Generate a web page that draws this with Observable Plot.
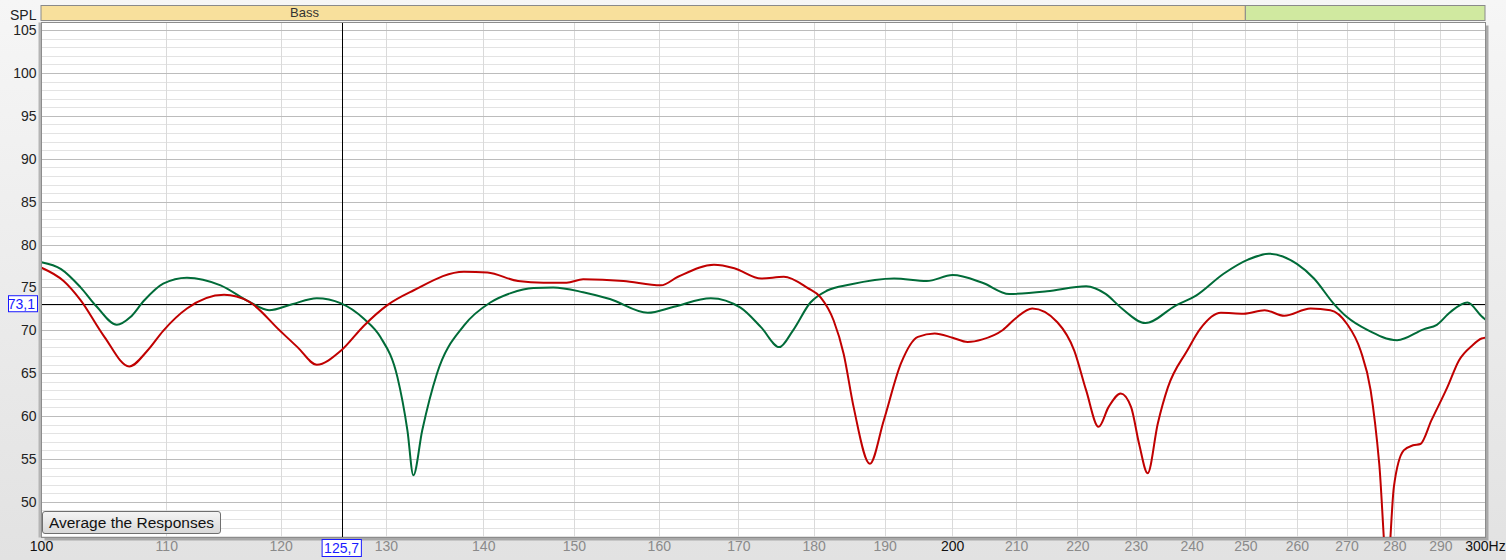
<!DOCTYPE html>
<html>
<head>
<meta charset="utf-8">
<script src="https://cdn.jsdelivr.net/npm/d3@7"></script>
<script src="https://cdn.jsdelivr.net/npm/@observablehq/plot@0.6"></script>
<style>
  html, body { margin: 0; padding: 0; }
  body { width: 1506px; height: 560px; background: linear-gradient(#f6f6f6, #e2e2e2); position: relative; overflow: hidden; font-family: "Liberation Sans", Arial, sans-serif; }
  #chart { position: absolute; left: 0; top: 0; }
  #avg { position: absolute; left: 42px; top: 511px; width: 179px; height: 23px; font: 15.5px "Liberation Sans", Arial, sans-serif; color: #111; border: 1px solid #6f6f6f; border-radius: 3px; background: linear-gradient(#f4f4f4, #d9d9d9); padding: 0; }
</style>
</head>
<body>
<div id="chart"></div>
<button id="avg">Average the Responses</button>
<script>
// ---- data ----
const freqGreen = [100, 101.5, 103.0, 104.3, 105.9, 107.0, 108.1, 109.7, 111.7, 114.6, 117.1, 118.9, 121.0, 123.3, 125.6, 127.8, 129.4, 131.1, 132.1, 132.7, 133.6, 135.1, 137.9, 140.7, 142.9, 145.4, 147.6, 151.0, 154.1, 158.6, 161.8, 166.4, 170.2, 172.9, 175.3, 177.1, 179.5, 181.8, 185.0, 191.3, 196.1, 200, 204.6, 208.8, 214.9, 221.4, 224.7, 227.5, 231.6, 237.0, 240.7, 245.8, 250.4, 254.4, 259.9, 263.3, 267.3, 270.0, 274.2, 280.5, 286.3, 289.1, 292.1, 295.9, 299.1, 300];
const splGreen  = [78.0, 77.2, 75.1, 72.8, 70.7, 71.6, 73.5, 75.5, 76.2, 75.3, 73.4, 72.4, 73.1, 73.8, 73.2, 71.4, 69.3, 64.6, 58.4, 53.15, 58.4, 65.0, 70.6, 73.3, 74.4, 75.0, 75.05, 74.5, 73.7, 72.1, 72.8, 73.8, 72.7, 70.4, 68.1, 70.0, 73.3, 74.7, 75.4, 76.1, 75.8, 76.5, 75.6, 74.3, 74.6, 75.2, 74.3, 72.6, 70.9, 72.95, 74.1, 76.65, 78.3, 79.0, 77.8, 76.1, 73.15, 71.6, 70.1, 68.9, 70.2, 70.7, 72.2, 73.3, 71.7, 71.3];

const freqRed = [100, 101.7, 103.0, 104.9, 106.9, 108.4, 109.7, 111.7, 114.9, 117.1, 119.9, 121.5, 123.3, 125.6, 127.8, 130.1, 132.7, 137.9, 140.4, 143.7, 146.5, 149.1, 151.0, 155.7, 160.2, 162.3, 166.8, 169.4, 172.9, 175.9, 179.1, 180.9, 182.7, 184.1, 185.5, 187.8, 189.8, 192.3, 194.8, 197.3, 200, 202.3, 204.6, 207.8, 209.9, 212.5, 216.6, 219.4, 221.4, 223.5, 225.2, 227.3, 229.1, 230.5, 232.0, 233.8, 235.6, 239.1, 241.5, 245.3, 249.6, 253.6, 257.4, 262.6, 266.6, 270.0, 272.8, 274.9, 276.7, 278.4, 279.8, 281.9, 283.9, 285.5, 287.9, 291.4, 294.0, 297.0, 299.1, 300];
const splRed  = [77.35, 75.8, 73.6, 69.3, 65.85, 67.7, 70.0, 72.6, 74.2, 73.4, 70.0, 68.1, 66.05, 67.7, 70.6, 73.0, 74.7, 76.9, 76.8, 75.8, 75.6, 75.6, 76.0, 75.8, 75.3, 76.3, 77.7, 77.3, 76.1, 76.3, 75.0, 73.9, 71.2, 67.3, 61.1, 54.5, 59.55, 66.2, 69.3, 69.7, 69.2, 68.7, 69.0, 70.1, 71.5, 72.6, 71.0, 67.7, 63.05, 58.8, 61.1, 62.7, 61.1, 56.8, 53.4, 59.2, 63.4, 67.7, 70.25, 72.1, 72.0, 72.4, 71.75, 72.6, 72.4, 70.8, 67.7, 63.05, 54.5, 42.0, 51.8, 56.05, 56.65, 56.8, 59.55, 63.4, 66.55, 68.3, 69.1, 69.2];

const xTicks = [100, 110, 120, 130, 140, 150, 160, 170, 180, 190, 200, 210, 220, 230, 240, 250, 260, 270, 280, 290, 300];
const xTickLabels = ["100", "110", "120", "130", "140", "150", "160", "170", "180", "190", "200", "210", "220", "230", "240", "250", "260", "270", "280", "290", "300Hz"];
const xTickStrong = [100, 200, 300];
const yTicks = [50, 55, 60, 65, 70, 75, 80, 85, 90, 95, 100, 105];
const yMinor = d3.range(46, 106, 1);
const yDomain = [45.9, 105.95];

const bands = [
  {name: "Bass", from: 100, to: 250, fill: "#f8e09c"},
  {name: "", from: 250, to: 300, fill: "#d0e9a0"}
];
const bassLabelFreq = 122.2;
const cursorFreq = 125.7;
const cursorSpl = 73.1;

// ---- build ----
const green = freqGreen.map((f, i) => ({f, v: splGreen[i]}));
const red = freqRed.map((f, i) => ({f, v: splRed[i]}));

const plot = Plot.plot({
  width: 1506,
  height: 560,
  marginLeft: 41,
  marginRight: 21,
  marginTop: 22,
  marginBottom: 23,
  style: {background: "transparent", fontFamily: "'Liberation Sans', Arial, sans-serif", fontSize: "14px", overflow: "visible"},
  x: {type: "log", domain: [100, 300], axis: null},
  y: {domain: yDomain, axis: null},
  marks: [
    Plot.frame({fill: "#a9a9a9", stroke: null, dx: 3, dy: 3}),
    Plot.frame({fill: "#b5b5b5", stroke: null, dx: -3}),
    Plot.frame({fill: "white", stroke: null}),
    Plot.ruleY(yMinor.filter(d => d % 5 !== 0), {stroke: "#e3e3e3", strokeWidth: 1, shapeRendering: "crispEdges"}),
    Plot.ruleX(xTicks.slice(1, -1), {stroke: "#dadada", strokeWidth: 1, shapeRendering: "crispEdges"}),
    Plot.ruleY(yTicks, {stroke: "#bcbcbc", strokeWidth: 1, shapeRendering: "crispEdges"}),
    Plot.ruleX([cursorFreq], {stroke: "black", strokeWidth: 1, shapeRendering: "crispEdges"}),
    Plot.ruleY([cursorSpl], {stroke: "black", strokeWidth: 1, shapeRendering: "crispEdges"}),
    Plot.line(green, {x: "f", y: "v", stroke: "#006b38", strokeWidth: 2, curve: "monotone-x", clip: true}),
    Plot.line(red, {x: "f", y: "v", stroke: "#c00000", strokeWidth: 2, curve: "monotone-x", clip: true}),
    Plot.frame({stroke: "#8c8c8c", strokeWidth: 1}),
    Plot.text(yTicks, {y: d => d, text: d => String(d), frameAnchor: "left", textAnchor: "end", dx: -5, fill: "#222", fontSize: 14}),
    Plot.text(xTicks, {x: d => d, text: (d, i) => xTickLabels[i], frameAnchor: "bottom", dy: 13, fill: d => xTickStrong.includes(d) ? "#111" : "#8a8a8a", fontSize: 14}),
    Plot.text(["SPL"], {frameAnchor: "top-left", dx: -5, dy: -12, textAnchor: "end", fill: "#222", fontSize: 14})
  ]
});
document.getElementById("chart").appendChild(plot);

// ---- bands & cursor labels via the plot's own scales ----
const sx = plot.scale("x"), sy = plot.scale("y");
const svg = d3.select(plot);
const gb = svg.append("g");
bands.forEach(b => {
  const x1 = sx.apply(b.from), x2 = sx.apply(b.to);
  gb.append("rect").attr("x", x1).attr("y", 5.5).attr("width", x2 - x1).attr("height", 15)
    .attr("fill", b.fill).attr("stroke", "#8a8a8a").attr("stroke-width", 1);
});
gb.append("text").attr("x", sx.apply(bassLabelFreq)).attr("y", 17).attr("text-anchor", "middle")
  .attr("font-size", 13).attr("fill", "#333").text("Bass");

const cx = sx.apply(cursorFreq);
const gx = svg.append("g");
const tx = gx.append("text").attr("x", cx).attr("y", 553).attr("text-anchor", "middle")
  .attr("font-size", 14).attr("fill", "#1a1aff").text(String(cursorFreq).replace(".", ","));
let bb = tx.node().getBBox();
gx.insert("rect", "text").attr("x", bb.x - 2).attr("y", 539.5).attr("width", bb.width + 4).attr("height", 17)
  .attr("fill", "white").attr("stroke", "#1a1aff").attr("stroke-width", 1);

const cy = sy.apply(cursorSpl);
const gy = svg.append("g");
const ty = gy.append("text").attr("x", 35).attr("y", cy + 5).attr("text-anchor", "end")
  .attr("font-size", 14).attr("fill", "#1a1aff").text(String(cursorSpl).replace(".", ","));
gy.insert("rect", "text").attr("x", 8.5).attr("y", cy - 8).attr("width", 29).attr("height", 16)
  .attr("fill", "white").attr("stroke", "#1a1aff").attr("stroke-width", 1);
</script>
</body>
</html>
